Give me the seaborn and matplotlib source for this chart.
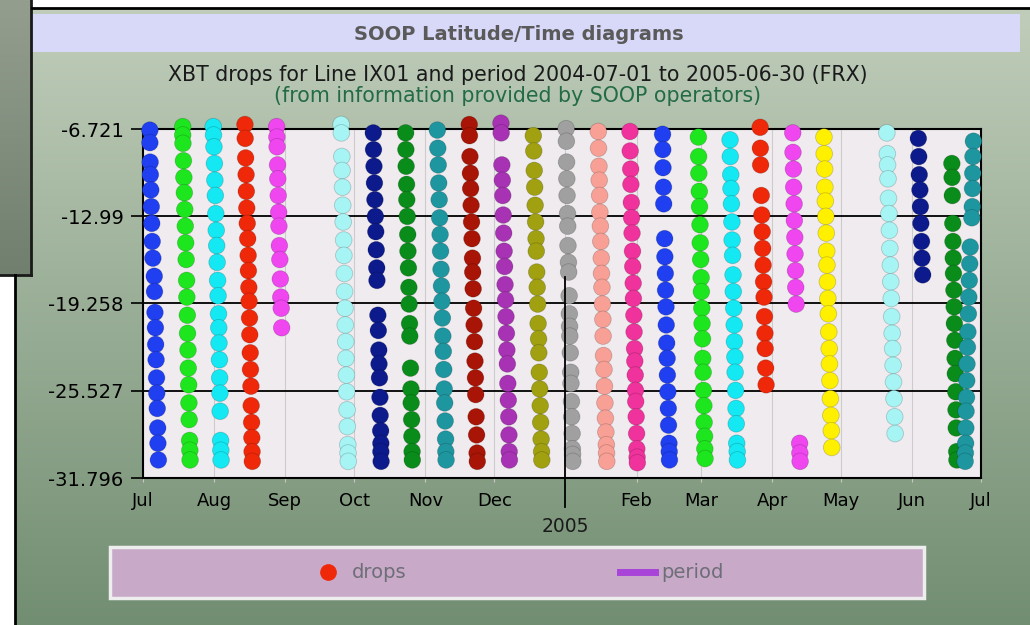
import numpy as np
import pandas as pd
import seaborn as sns
import matplotlib.pyplot as plt
import matplotlib.dates as mdates
from matplotlib.patches import Rectangle
from matplotlib.lines import Line2D
from matplotlib.ticker import FuncFormatter

# period shown on the x axis
period_start = '2004-07-01'
period_end = '2005-07-01'

y_ticks = [-6.721, -12.99, -19.258, -25.527, -31.796]
y_labels = ['-6.721', '-12.99', '-19.258', '-25.527', '-31.796']

# one colour per cruise (left to right)
cruise_colors = ['#1f3ff0', '#1ee61e', '#14e8f2', '#f0280a', '#f046f0', '#a6f4f4',
                 '#0c1a8c', '#0a8c1a', '#1e96a0', '#a81406', '#a832b4', '#a0a010',
                 '#a0a0a0', '#f8a096', '#f0329c', '#1f3ff0', '#1ee61e', '#14e8f2',
                 '#f0280a', '#f046f0', '#fff000', '#a6f4f4', '#0c1a8c', '#0a8c1a',
                 '#1e96a0']

# days since period start of each drop
cruise_days = [
    [3.0, 3.0, 3.1, 3.2, 3.4, 3.6, 3.8, 4.0, 4.3, 4.9, 5.0, 5.2, 5.4, 5.5, 5.7, 5.9, 6.0, 6.2, 6.4, 6.5, 6.7],
    [17.3, 17.3, 17.4, 17.6, 17.8, 18.0, 18.2, 18.4, 18.6, 18.8, 19.0, 19.1, 19.3, 19.4, 19.6, 19.7, 19.9, 20.0, 20.1, 20.3, 20.4, 20.5],
    [30.6, 30.7, 30.9, 31.1, 31.3, 31.5, 31.7, 31.9, 32.1, 32.3, 32.5, 32.7, 32.9, 33.0, 33.1, 33.3, 33.4, 33.5, 33.6, 33.8, 33.9, 34.0],
    [44.4, 44.5, 44.7, 44.9, 45.0, 45.2, 45.4, 45.6, 45.8, 45.9, 46.1, 46.2, 46.4, 46.5, 46.7, 46.8, 47.0, 47.1, 47.3, 47.4, 47.5, 47.6],
    [58.2, 58.3, 58.4, 58.6, 58.7, 58.9, 59.1, 59.2, 59.4, 59.6, 59.8, 60.0, 60.2, 60.4],
    [86.3, 86.4, 86.6, 86.7, 86.9, 87.0, 87.2, 87.4, 87.5, 87.7, 87.8, 88.0, 88.1, 88.3, 88.4, 88.6, 88.7, 88.9, 89.0, 89.2, 89.3, 89.4],
    [100.3, 100.4, 100.6, 100.8, 101.0, 101.2, 101.4, 101.6, 101.8, 101.9, 102.3, 102.5, 102.7, 102.8, 103.0, 103.2, 103.3, 103.5, 103.6, 103.6, 103.7],
    [114.4, 114.5, 114.6, 114.8, 114.9, 115.1, 115.3, 115.4, 115.6, 115.8, 115.9, 116.1, 116.2, 116.5, 116.7, 116.8, 117.0, 117.1, 117.2, 117.3],
    [128.2, 128.4, 128.6, 128.8, 129.0, 129.2, 129.4, 129.6, 129.8, 130.0, 130.2, 130.4, 130.6, 130.8, 131.0, 131.2, 131.4, 131.6, 131.8, 131.9, 132.0],
    [142.1, 142.2, 142.4, 142.6, 142.7, 142.9, 143.1, 143.3, 143.5, 143.6, 143.8, 144.0, 144.2, 144.4, 144.6, 144.8, 144.9, 145.1, 145.3, 145.5, 145.6],
    [155.9, 156.0, 156.3, 156.5, 156.7, 156.9, 157.1, 157.3, 157.5, 157.7, 157.9, 158.1, 158.3, 158.5, 158.7, 158.9, 159.1, 159.3, 159.4, 159.5, 159.6],
    [170.0, 170.2, 170.4, 170.6, 170.8, 171.0, 171.2, 171.3, 171.5, 171.7, 171.9, 172.1, 172.3, 172.4, 172.6, 172.8, 173.0, 173.2, 173.4, 173.6, 173.7],
    [184.3, 184.4, 184.5, 184.6, 184.7, 184.9, 185.0, 185.1, 185.3, 185.4, 185.6, 185.7, 185.8, 185.9, 186.1, 186.3, 186.4, 186.6, 186.7, 186.9, 187.0, 187.1, 187.2],
    [198.3, 198.4, 198.6, 198.7, 198.9, 199.0, 199.2, 199.4, 199.6, 199.7, 199.9, 200.1, 200.3, 200.4, 200.6, 200.8, 201.0, 201.2, 201.4, 201.6, 201.8, 201.9, 202.0],
    [212.1, 212.2, 212.4, 212.5, 212.7, 212.8, 213.0, 213.2, 213.3, 213.5, 213.6, 213.8, 213.9, 214.1, 214.2, 214.4, 214.5, 214.6, 214.8, 215.0, 215.1, 215.2, 215.3],
    [226.3, 226.4, 226.5, 226.7, 226.8, 227.2, 227.3, 227.5, 227.6, 227.8, 227.9, 228.1, 228.3, 228.4, 228.6, 228.8, 228.9, 229.1, 229.2, 229.3],
    [241.9, 242.0, 242.1, 242.3, 242.4, 242.6, 242.7, 242.9, 243.1, 243.2, 243.4, 243.5, 243.7, 243.8, 244.0, 244.1, 244.3, 244.4, 244.6, 244.7, 244.8],
    [255.7, 255.8, 256.0, 256.1, 256.3, 256.5, 256.6, 256.8, 257.0, 257.1, 257.3, 257.5, 257.6, 257.8, 257.9, 258.1, 258.3, 258.4, 258.6, 258.8, 258.9],
    [268.8, 268.9, 269.0, 269.3, 269.5, 269.7, 269.9, 270.1, 270.3, 270.5, 270.7, 270.9, 271.0, 271.2, 271.4],
    [283.0, 283.1, 283.3, 283.4, 283.6, 283.7, 283.9, 284.0, 284.2, 284.3, 284.5, 286.0, 286.1, 286.2],
    [296.6, 296.7, 296.9, 297.0, 297.2, 297.4, 297.6, 297.8, 297.9, 298.1, 298.3, 298.5, 298.7, 298.9, 299.0, 299.2, 299.4, 299.6, 299.8, 300.0],
    [324.0, 324.2, 324.3, 324.5, 324.7, 324.9, 325.1, 325.3, 325.5, 325.7, 325.9, 326.1, 326.3, 326.5, 326.7, 326.9, 327.1, 327.4, 327.6],
    [337.7, 337.9, 338.1, 338.4, 338.6, 338.8, 339.1, 339.3, 339.6],
    [352.3, 352.4, 352.5, 352.7, 352.8, 352.9, 353.0, 353.2, 353.3, 353.4, 353.6, 353.7, 353.8, 354.0, 354.1, 354.2, 354.4, 354.5],
    [361.7, 361.5, 361.4, 361.3, 361.2, 361.0, 360.3, 360.1, 359.9, 359.7, 359.5, 359.3, 359.1, 358.9, 358.8, 358.7, 358.5, 358.4, 358.3, 358.2, 358.1],
]

# latitude of each drop
cruise_lats = [
    [-6.8, -7.7, -9.1, -10.0, -11.1, -12.3, -13.5, -14.8, -16.0, -17.3, -18.4, -19.9, -21.0, -22.2, -23.3, -24.6, -25.7, -26.8, -28.2, -29.3, -30.5],
    [-6.55, -7.15, -7.75, -9.0, -10.2, -11.3, -12.5, -13.7, -14.9, -16.1, -17.6, -18.8, -20.1, -21.4, -22.6, -23.9, -25.1, -26.4, -27.6, -29.1, -29.8, -30.5],
    [-6.55, -7.15, -8.0, -9.2, -10.4, -11.5, -12.8, -14.0, -15.1, -16.3, -17.6, -18.7, -20.0, -21.0, -22.1, -23.3, -24.6, -25.7, -27.0, -29.1, -29.8, -30.5],
    [-6.4, -7.4, -8.8, -10.0, -11.2, -12.4, -13.5, -14.6, -15.8, -16.9, -18.1, -19.1, -20.3, -21.5, -22.8, -24.0, -25.2, -26.6, -27.8, -28.9, -29.9, -30.6],
    [-6.55, -7.3, -8.0, -9.3, -10.3, -11.5, -12.7, -13.7, -15.1, -16.1, -17.5, -18.8, -19.6, -21.0],
    [-6.4, -7.0, -8.7, -9.7, -10.9, -12.2, -13.4, -14.7, -15.8, -17.1, -18.4, -19.6, -20.8, -22.0, -23.2, -24.4, -25.6, -26.9, -28.1, -29.4, -30.0, -30.6],
    [-7.0, -8.2, -9.4, -10.6, -11.8, -13.0, -14.1, -15.4, -16.7, -17.6, -20.1, -21.2, -22.6, -23.6, -24.6, -26.0, -27.3, -28.4, -29.3, -29.9, -30.6],
    [-7.0, -8.2, -9.4, -10.7, -11.8, -13.0, -14.3, -15.5, -16.7, -18.1, -19.3, -20.7, -21.6, -23.9, -25.4, -26.4, -27.6, -28.8, -29.9, -30.5],
    [-6.8, -8.1, -9.3, -10.6, -11.8, -13.1, -14.3, -15.5, -16.8, -18.0, -19.1, -20.3, -21.6, -22.7, -24.0, -25.4, -26.4, -27.7, -29.0, -29.9, -30.5],
    [-6.4, -7.2, -8.7, -9.9, -11.0, -12.2, -13.4, -14.6, -16.0, -17.0, -18.2, -19.6, -20.8, -22.0, -23.4, -24.6, -25.8, -27.4, -28.7, -30.0, -30.6],
    [-6.3, -7.0, -9.3, -10.4, -11.5, -12.9, -14.2, -15.5, -16.6, -17.9, -19.0, -20.2, -21.4, -22.6, -23.6, -25.0, -26.2, -27.4, -28.7, -29.9, -30.5],
    [-7.2, -8.3, -9.7, -10.9, -12.2, -13.4, -14.6, -15.5, -17.0, -18.1, -19.3, -20.7, -21.8, -22.8, -24.2, -25.4, -26.6, -27.8, -29.0, -29.9, -30.5],
    [-6.7, -7.6, -9.1, -10.3, -11.5, -12.8, -13.7, -15.1, -16.3, -17.0, -18.7, -20.0, -20.9, -21.6, -22.8, -24.2, -25.0, -26.3, -27.4, -28.6, -29.7, -30.1, -30.6],
    [-6.9, -8.1, -9.4, -10.4, -11.5, -12.7, -13.7, -14.8, -16.0, -17.1, -18.1, -19.3, -20.4, -21.6, -23.0, -24.0, -25.2, -26.4, -27.5, -28.5, -29.4, -30.0, -30.6],
    [-6.9, -8.3, -9.6, -10.7, -12.0, -13.1, -14.2, -15.5, -16.6, -17.8, -18.9, -20.1, -21.3, -22.5, -23.4, -24.4, -25.5, -26.3, -27.4, -28.6, -29.7, -30.3, -30.7],
    [-7.1, -8.2, -9.5, -10.9, -12.1, -14.6, -15.9, -17.1, -18.3, -19.5, -20.8, -22.1, -23.2, -24.4, -25.6, -26.8, -28.0, -29.3, -29.9, -30.5],
    [-7.3, -8.7, -9.9, -11.2, -12.3, -13.6, -14.9, -16.1, -17.4, -18.4, -19.6, -20.7, -21.8, -23.2, -24.2, -25.5, -26.6, -27.8, -28.8, -29.7, -30.4],
    [-7.5, -8.7, -10.0, -11.0, -12.1, -13.4, -14.7, -15.8, -17.2, -18.4, -19.6, -20.8, -22.0, -23.1, -24.2, -25.5, -26.8, -27.9, -29.3, -29.9, -30.5],
    [-6.6, -8.1, -9.3, -11.5, -12.9, -14.1, -15.3, -16.5, -17.7, -18.8, -20.2, -21.4, -22.5, -23.9, -25.1],
    [-7.0, -8.4, -9.6, -10.9, -12.1, -13.3, -14.5, -15.7, -16.9, -18.1, -19.3, -29.3, -30.0, -30.6],
    [-7.3, -8.5, -9.6, -10.9, -11.9, -13.0, -14.2, -15.5, -16.5, -17.7, -18.9, -20.0, -21.3, -22.5, -23.6, -24.8, -26.1, -27.3, -28.4, -29.6],
    [-7.0, -8.5, -9.3, -10.3, -11.7, -12.8, -14.0, -15.3, -16.5, -17.7, -18.9, -20.2, -21.4, -22.5, -23.7, -24.9, -26.1, -27.4, -28.6],
    [-7.4, -8.7, -10.0, -11.1, -12.3, -13.5, -14.8, -16.0, -17.2],
    [-9.2, -10.2, -11.5, -13.5, -14.8, -16.0, -17.1, -18.3, -19.5, -20.7, -21.9, -23.2, -24.3, -25.6, -26.9, -28.2, -29.9, -30.5],
    [-7.6, -8.7, -9.9, -11.0, -12.3, -13.1, -15.2, -16.4, -17.6, -18.8, -20.0, -21.3, -22.4, -23.6, -24.8, -26.0, -27.0, -28.2, -29.3, -30.0, -30.6],
]

## table for seaborn
rows = []
for i, (days, lats) in enumerate(zip(cruise_days, cruise_lats)):
    for d, la in zip(days, lats):
        rows.append({'cruise': f'c{i:02d}', 'day': d, 'lat': la})
df = pd.DataFrame(rows)
df['date'] = pd.Timestamp(period_start) + pd.to_timedelta(df['day'], unit='D')
palette = {f'c{i:02d}': c for i, c in enumerate(cruise_colors)}

fig = plt.figure(figsize=(10.3, 6.25), dpi=100)

## page background (pixel coordinates)
bg = fig.add_axes([0, 0, 1, 1])
bg.set_xlim(0, 1030)
bg.set_ylim(625, 0)
bg.axis('off')

grad = np.linspace(0, 1, 256)[:, None, None]
top = np.array([192, 205, 186]) / 255
bot = np.array([114, 142, 114]) / 255
bg.imshow(top + (bot - top) * grad, extent=[15, 1030, 625, 8], aspect='auto', interpolation='bilinear')

ptop = np.array([148, 158, 143]) / 255
pbot = np.array([112, 127, 110]) / 255
bg.imshow(ptop + (pbot - ptop) * grad, extent=[0, 31, 275, 0], aspect='auto', interpolation='bilinear')
bg.plot([31, 31], [0, 275], color='#1a1a1a', lw=2)
bg.plot([0, 31], [275, 275], color='#1a1a1a', lw=2)
bg.plot([32, 1030], [8, 8], color='black', lw=2)
bg.plot([15, 15], [275, 625], color='black', lw=2)

bg.add_patch(Rectangle((32, 14), 988, 38, facecolor='#d8d8f8', edgecolor='none'))
bg.text(519, 34, 'SOOP Latitude/Time diagrams', ha='center', va='center',
        fontsize=14, fontweight='bold', color='#5a5a5a')
bg.text(518, 75, 'XBT drops for Line IX01 and period 2004-07-01 to 2005-06-30 (FRX)',
        ha='center', va='center', fontsize=14.8, color='#1a1a1a')
bg.text(518, 96, '(from information provided by SOOP operators)',
        ha='center', va='center', fontsize=14.8, color='#236b46')

# legend box
bg.add_patch(Rectangle((110, 547), 814, 51, facecolor='#c8a9c8', edgecolor='#eeeeee', lw=2.5))

## plot
ax = fig.add_axes([143 / 1030, 1 - 478 / 625, 838 / 1030, 349 / 625])
ax.set_facecolor('#efebef')

sns.scatterplot(data=df, x='date', y='lat', hue='cruise', palette=palette, s=145,
                edgecolor=(0, 0, 0, 0.18), linewidth=0.6, legend=False, ax=ax,
                clip_on=False, zorder=3)

ax.set_xlim(pd.Timestamp(period_start), pd.Timestamp(period_end))
ax.set_ylim(y_ticks[-1], y_ticks[0])
ax.set_yticks(y_ticks, y_labels)
ax.set_xlabel('')
ax.set_ylabel('')

ax.xaxis.set_major_locator(mdates.MonthLocator())
ax.xaxis.set_major_formatter(FuncFormatter(
    lambda v, pos: '' if mdates.num2date(v).month == 1 else mdates.num2date(v).strftime('%b')))

ax.tick_params(axis='y', length=9, width=1.2, color='black', labelsize=14, pad=5)
ax.tick_params(axis='x', length=3, color='#c8c8c8', labelsize=13, pad=7)

ax.set_axisbelow(True)
ax.yaxis.grid(True, color='black', lw=1.3)
ax.xaxis.grid(True, color='#cccccc', lw=0.8)
for sp in ax.spines.values():
    sp.set_color('black')
    sp.set_linewidth(1.5)

# year marker
jan = pd.Timestamp('2005-01-01')
ax.plot([jan, jan], [0.576, -0.083], transform=ax.get_xaxis_transform(),
        color='black', lw=1.3, clip_on=False, zorder=4)
ax.text(jan, -0.14, '2005', transform=ax.get_xaxis_transform(), ha='center', va='center',
        fontsize=13.5, color='#1a1a1a')

handles = [Line2D([], [], marker='o', ls='none', markersize=11, color='#f0280a'),
           Line2D([], [], color='#a844d8', lw=5)]
fig.legend(handles, ['drops', 'period'], loc='center', bbox_to_anchor=(517 / 1030, 1 - 573 / 625),
           ncol=2, frameon=False, columnspacing=11, handlelength=1.8, handletextpad=0.3,
           fontsize=14, labelcolor='#6e6e78')

fig.savefig('out.png', dpi=100)
